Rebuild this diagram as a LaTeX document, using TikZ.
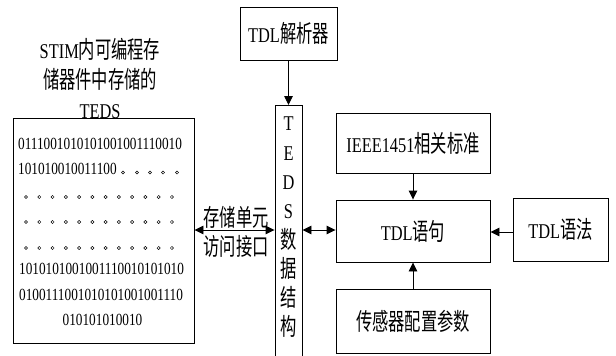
\documentclass[tikz,border=0pt]{standalone}
\usepackage{fontspec}
\setmainfont[FakeStretch=0.78]{Liberation Serif}
\newfontfamily\cjk[FakeStretch=0.68,Scale=1.14]{Noto Sans CJK SC}
\newcommand\zh[1]{{\cjk #1}}
\usetikzlibrary{arrows.meta}
\begin{document}
\begin{tikzpicture}[x=1pt,y=-1pt,
  box/.style={draw,line width=0.9pt,inner sep=0pt},
  lbl/.style={font=\fontsize{21}{25}\selectfont,inner sep=0pt},
  bin/.style={font=\fontsize{17}{20}\selectfont,inner sep=0pt},
  tip/.tip={Triangle[length=9pt,width=8.5pt]},
  arr/.style={line width=0.9pt,-tip},
  darr/.style={line width=0.9pt,tip-tip},
  dot/.style={line width=0.5pt}]
\useasboundingbox (0,0) rectangle (616,356);
\fill[white] (0,0) rectangle (616,356);

% left: title and memory box
\node[align=center,font=\fontsize{21}{30}\selectfont,inner sep=0pt] (title) at (100,78)
  {STIM\zh{内可编程存}\\\zh{储器件中存储的}\\TEDS};
\node[box,minimum width=181pt,minimum height=225pt] (mem) at (103.5,230.5) {};
\node[bin,anchor=west] (b1) at (18,144) {0111001010101001001110010};
\node[bin,anchor=west] (b2) at (18,169) {101010010011100};
\foreach \x in {123,137,150,163,177} \draw[dot] (\x,172.5) circle (1.6);
\foreach \y in {197,222,248}
  \foreach \i in {0,...,11} \draw[dot] (26+\i*13.27,\y) circle (1.6);
\node[bin,anchor=west] (b3) at (19,268.5) {1010101001001110010101010};
\node[bin,anchor=west] (b4) at (19,295) {0100111001010101001001110};
\node[bin] (b5) at (102.5,320) {010101010010};

% middle
\node[box,lbl,minimum width=97pt,minimum height=53pt] (parser) at (288.5,33.5) {TDL\zh{解析器}};
\node[box,minimum width=27pt,minimum height=262pt,anchor=north] (teds) at (288.5,105) {};
\node[align=center,font=\fontsize{21}{29.3}\selectfont,inner sep=0pt] (tedstext) at (288.5,227.5)
  {T\\E\\D\\S\\\zh{数}\\\zh{据}\\\zh{结}\\\zh{构}};
\node[lbl] (l1) at (236,217.5) {\zh{存储单元}};
\node[lbl] (l2) at (236,246) {\zh{访问接口}};

% right column
\node[box,lbl,minimum width=154pt,minimum height=60pt] (ieee) at (413,143) {IEEE1451\zh{相关标准}};
\node[box,lbl,minimum width=154pt,minimum height=62pt] (stmt) at (413,231) {TDL\zh{语句}};
\node[box,lbl,minimum width=154pt,minimum height=64pt] (sensor) at (413,321) {\zh{传感器配置参数}};
\node[box,lbl,minimum width=95pt,minimum height=63pt] (grammar) at (560.5,229.5) {TDL\zh{语法}};

% connectors
\draw[arr] (parser) -- (teds);
\draw[darr] (mem.east |- 0,230) -- (teds.west |- 0,230);
\draw[darr] (teds.east |- 0,230) -- (stmt.west |- 0,230);
\draw[arr] (ieee) -- (stmt);
\draw[arr] (sensor) -- (stmt);
\draw[arr] (grammar.west |- 0,232) -- (stmt.east |- 0,232);
\end{tikzpicture}
\end{document}
